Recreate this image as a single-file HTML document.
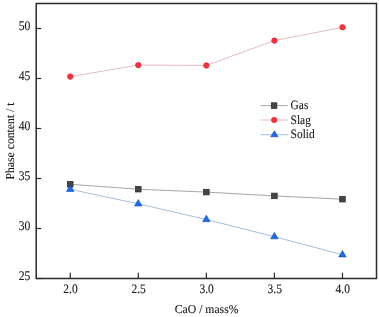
<!DOCTYPE html>
<html><head><meta charset="utf-8"><style>
html,body{margin:0;padding:0;background:#fff;}
svg{display:block;}
text{font-family:"Liberation Serif",serif;text-rendering:geometricPrecision;fill:#1a1a1a;stroke:#1a1a1a;stroke-width:0.12px;}
.t{font-size:12px;}
.t2{font-size:12px;}
</style></head><body>
<svg width="379" height="317" viewBox="0 0 379 317">
<defs><filter id="gs" x="0" y="0" width="100%" height="100%" filterUnits="userSpaceOnUse"><feColorMatrix type="saturate" values="0"/></filter></defs>
<rect width="379" height="317" fill="#fff"/>
<polyline points="70.23,184.30 138.29,189.20 206.35,192.10 274.41,195.90 342.47,199.20" fill="none" stroke="#a8a8a8" stroke-width="1"/>
<polyline points="70.23,76.60 138.29,65.10 206.35,65.40 274.41,40.60 342.47,27.30" fill="none" stroke="#e6bcc0" stroke-width="1"/>
<polyline points="70.23,189.30 138.29,203.80 206.35,219.50 274.41,236.70 342.47,254.80" fill="none" stroke="#a8c0e0" stroke-width="1"/>
<rect x="67.43" y="181.50" width="5.6" height="5.6" fill="#464646" stroke="#262626" stroke-width="0.7"/>
<rect x="135.49" y="186.40" width="5.6" height="5.6" fill="#464646" stroke="#262626" stroke-width="0.7"/>
<rect x="203.55" y="189.30" width="5.6" height="5.6" fill="#464646" stroke="#262626" stroke-width="0.7"/>
<rect x="271.61" y="193.10" width="5.6" height="5.6" fill="#464646" stroke="#262626" stroke-width="0.7"/>
<rect x="339.67" y="196.40" width="5.6" height="5.6" fill="#464646" stroke="#262626" stroke-width="0.7"/>
<circle cx="70.23" cy="76.60" r="2.8" fill="#f8303f" stroke="#d8202e" stroke-width="0.5"/>
<circle cx="138.29" cy="65.10" r="2.8" fill="#f8303f" stroke="#d8202e" stroke-width="0.5"/>
<circle cx="206.35" cy="65.40" r="2.8" fill="#f8303f" stroke="#d8202e" stroke-width="0.5"/>
<circle cx="274.41" cy="40.60" r="2.8" fill="#f8303f" stroke="#d8202e" stroke-width="0.5"/>
<circle cx="342.47" cy="27.30" r="2.8" fill="#f8303f" stroke="#d8202e" stroke-width="0.5"/>
<polygon points="70.23,185.03 73.93,191.43 66.53,191.43" fill="#1a6ee8" stroke="#0a45c0" stroke-width="0.6"/>
<polygon points="138.29,199.53 141.99,205.93 134.59,205.93" fill="#1a6ee8" stroke="#0a45c0" stroke-width="0.6"/>
<polygon points="206.35,215.23 210.05,221.63 202.65,221.63" fill="#1a6ee8" stroke="#0a45c0" stroke-width="0.6"/>
<polygon points="274.41,232.43 278.11,238.83 270.71,238.83" fill="#1a6ee8" stroke="#0a45c0" stroke-width="0.6"/>
<polygon points="342.47,250.53 346.17,256.93 338.77,256.93" fill="#1a6ee8" stroke="#0a45c0" stroke-width="0.6"/>
<rect x="36.2" y="3.5" width="340.3" height="275.0" fill="none" stroke="#2a2a2a" stroke-width="1.5"/>
<line x1="36.2" y1="278.50" x2="41.2" y2="278.50" stroke="#2a2a2a" stroke-width="1.2"/>
<line x1="36.2" y1="228.50" x2="41.2" y2="228.50" stroke="#2a2a2a" stroke-width="1.2"/>
<line x1="36.2" y1="178.50" x2="41.2" y2="178.50" stroke="#2a2a2a" stroke-width="1.2"/>
<line x1="36.2" y1="128.50" x2="41.2" y2="128.50" stroke="#2a2a2a" stroke-width="1.2"/>
<line x1="36.2" y1="78.50" x2="41.2" y2="78.50" stroke="#2a2a2a" stroke-width="1.2"/>
<line x1="36.2" y1="28.50" x2="41.2" y2="28.50" stroke="#2a2a2a" stroke-width="1.2"/>
<line x1="70.23" y1="278.5" x2="70.23" y2="272.7" stroke="#2a2a2a" stroke-width="1.2"/>
<line x1="138.29" y1="278.5" x2="138.29" y2="272.7" stroke="#2a2a2a" stroke-width="1.2"/>
<line x1="206.35" y1="278.5" x2="206.35" y2="272.7" stroke="#2a2a2a" stroke-width="1.2"/>
<line x1="274.41" y1="278.5" x2="274.41" y2="272.7" stroke="#2a2a2a" stroke-width="1.2"/>
<line x1="342.47" y1="278.5" x2="342.47" y2="272.7" stroke="#2a2a2a" stroke-width="1.2"/>
<line x1="260.5" y1="105.6" x2="287.7" y2="105.6" stroke="#a8a8a8" stroke-width="1"/>
<line x1="260.5" y1="120.0" x2="287.7" y2="120.0" stroke="#e6bcc0" stroke-width="1"/>
<line x1="260.5" y1="134.7" x2="287.7" y2="134.7" stroke="#a8c0e0" stroke-width="1"/>
<rect x="271.30" y="102.80" width="5.6" height="5.6" fill="#464646" stroke="#262626" stroke-width="0.7"/>
<circle cx="274.20" cy="120.00" r="2.8" fill="#f8303f" stroke="#d8202e" stroke-width="0.5"/>
<polygon points="274.40,130.87 278.05,136.77 270.75,136.77" fill="#1a6ee8" stroke="#0a45c0" stroke-width="0.6"/>
<g filter="url(#gs)">
<text transform="translate(30.40,280.10) scale(0.97,1.1)" text-anchor="end" class="t">25</text>
<text transform="translate(30.40,230.10) scale(0.97,1.1)" text-anchor="end" class="t">30</text>
<text transform="translate(30.40,180.10) scale(0.97,1.1)" text-anchor="end" class="t">35</text>
<text transform="translate(30.40,130.10) scale(0.97,1.1)" text-anchor="end" class="t">40</text>
<text transform="translate(30.40,80.10) scale(0.97,1.1)" text-anchor="end" class="t">45</text>
<text transform="translate(30.40,30.10) scale(0.97,1.1)" text-anchor="end" class="t">50</text>
<text transform="translate(70.53,293.10) scale(0.96,1.08)" text-anchor="middle" class="t">2.0</text>
<text transform="translate(138.59,293.10) scale(0.96,1.08)" text-anchor="middle" class="t">2.5</text>
<text transform="translate(206.65,293.10) scale(0.96,1.08)" text-anchor="middle" class="t">3.0</text>
<text transform="translate(274.71,293.10) scale(0.96,1.08)" text-anchor="middle" class="t">3.5</text>
<text transform="translate(342.77,293.10) scale(0.96,1.08)" text-anchor="middle" class="t">4.0</text>
<text transform="translate(206.60,313.40) scale(0.975,1.0)" text-anchor="middle" class="t2">CaO / mass%</text>
<text transform="translate(13.70,141.00) rotate(-90) scale(0.975,1.0)" text-anchor="middle" class="t2">Phase content / t</text>
<text transform="translate(290.60,109.20) scale(0.95,1.06)" text-anchor="start" class="t">Gas</text>
<text transform="translate(290.60,123.60) scale(0.95,1.06)" text-anchor="start" class="t">Slag</text>
<text transform="translate(290.60,138.30) scale(0.95,1.06)" text-anchor="start" class="t">Solid</text>
</g>
</svg>
</body></html>
